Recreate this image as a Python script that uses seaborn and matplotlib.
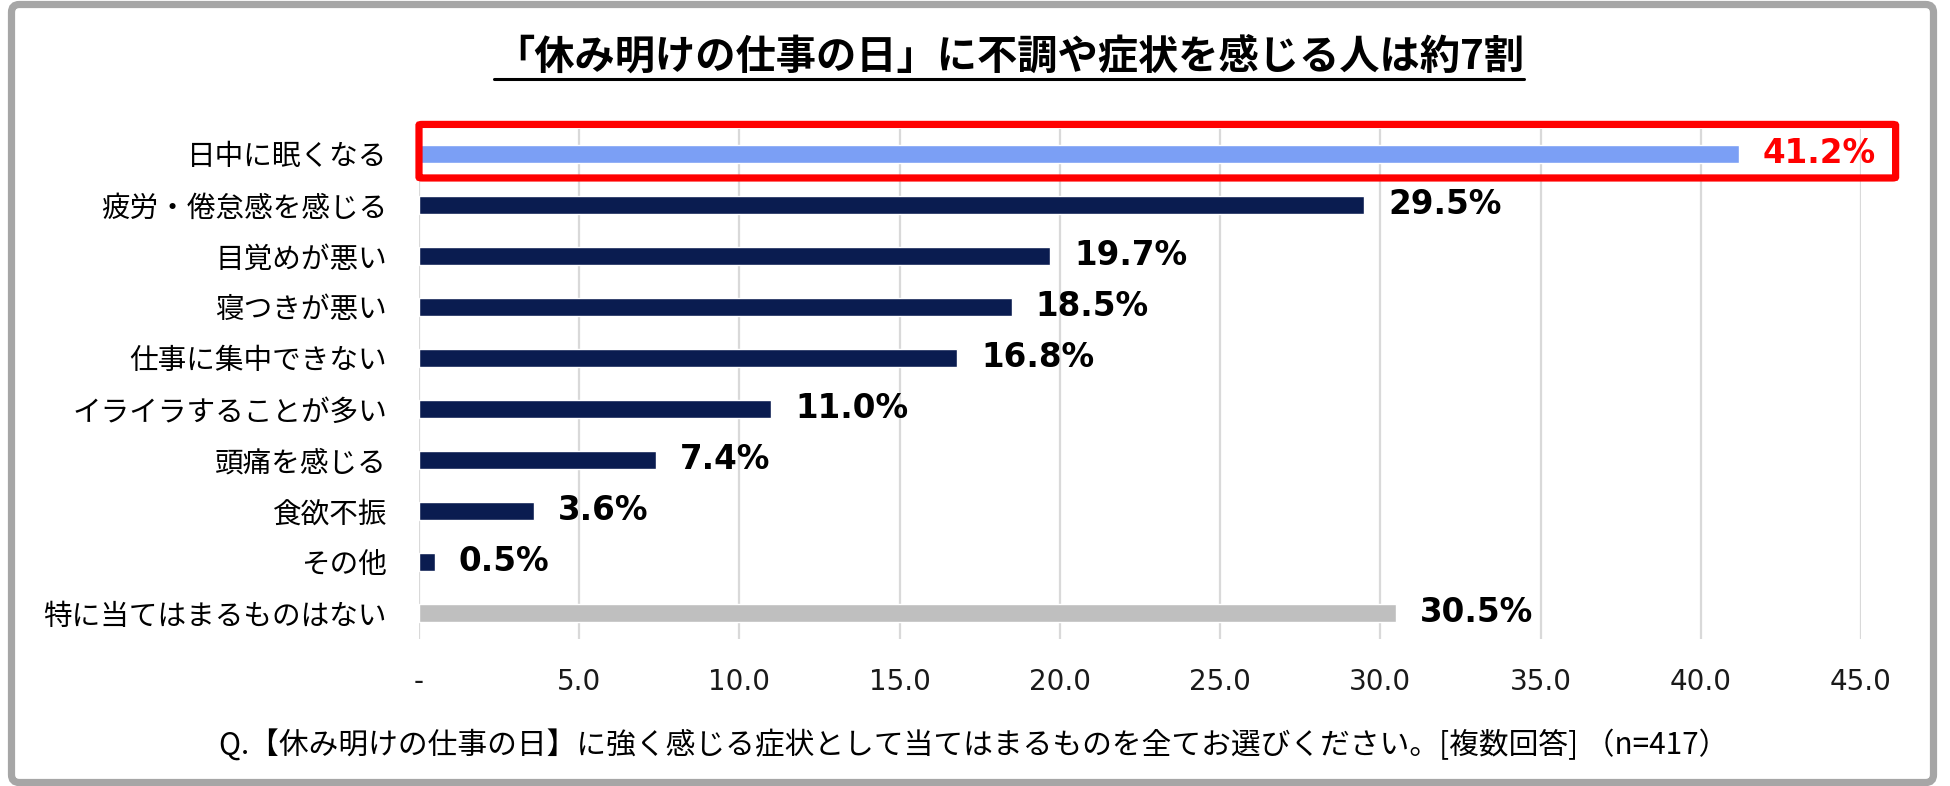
import matplotlib
matplotlib.use("Agg")
import matplotlib.pyplot as plt
import seaborn as sns
import pandas as pd
from matplotlib.patches import FancyBboxPatch
from matplotlib.lines import Line2D

categories = ["日中に眠くなる", "疲労・倦怠感を感じる", "目覚めが悪い", "寝つきが悪い", "仕事に集中できない",
              "イライラすることが多い", "頭痛を感じる", "食欲不振", "その他", "特に当てはまるものはない"]
values = [41.2, 29.5, 19.7, 18.5, 16.8, 11.0, 7.4, 3.6, 0.5, 30.5]
bar_colors = ["#7b9ff5", "#0a1c50", "#0a1c50", "#0a1c50", "#0a1c50",
              "#0a1c50", "#0a1c50", "#0a1c50", "#0a1c50", "#bfbfbf"]
label_colors = ["#ff0000"] + ["#000000"] * 9
xticks = [0, 5, 10, 15, 20, 25, 30, 35, 40, 45]
xtick_labels = ["-", "5.0", "10.0", "15.0", "20.0", "25.0", "30.0", "35.0", "40.0", "45.0"]
title = "「休み明けの仕事の日」に不調や症状を感じる人は約7割"
xlabel = "Q.【休み明けの仕事の日】に強く感じる症状として当てはまるものを全てお選びください。[複数回答] （n=417）"

sns.set_theme(style="white")
plt.rcParams['font.family'] = ['Noto Sans CJK JP', 'DejaVu Sans']

W, H = 1950, 786
fig = plt.figure(figsize=(W / 100, H / 100), dpi=100)
fig.patch.set_facecolor("white")
ax = fig.add_axes([419 / W, 1 - 638.5 / H, (1861 - 419) / W, (638.5 - 128.5) / H])

df = pd.DataFrame({"cat": categories, "val": values})
sns.barplot(data=df, x="val", y="cat", hue="cat", palette=bar_colors, legend=False,
            width=0.35, ax=ax, saturation=1, orient="h")

ax.set_xlim(0, 45)
ax.set_ylim(len(categories) - 0.5, -0.5)
ax.set_xticks(xticks)
ax.set_xticklabels(xtick_labels, family="DejaVu Sans", fontsize=20, color="#1a1a1a")
ax.tick_params(axis="x", length=0, pad=21)
ax.tick_params(axis="y", length=0, pad=23, labelsize=20.6, labelcolor="#000000")
ax.set_xlabel("")
ax.set_ylabel("")
for s in ax.spines.values():
    s.set_visible(False)
ax.grid(axis="x", color="#d9d9d9", linewidth=1.6)
ax.grid(axis="y", visible=False)
ax.set_axisbelow(True)

# value labels
for i, (v, c) in enumerate(zip(values, label_colors)):
    ax.annotate(f"{v:.1f}%", xy=(v, i), xytext=(17, 0), textcoords="offset points",
                va="center", ha="left", fontsize=23.5, fontweight="bold",
                family="DejaVu Sans", color=c)

# highlight box around first row
hl = FancyBboxPatch((0, -0.58), 46.08, 1.05, boxstyle="round,pad=0,rounding_size=0.1",
                    transform=ax.transData, fill=False, edgecolor="#ff0000",
                    linewidth=5.2, clip_on=False, zorder=5, mutation_aspect=1 / 6)
ax.add_patch(hl)

# title with underline
t = fig.text(1009 / W, 1 - 57 / H, title, ha="center", va="center", fontsize=29,
             fontweight="bold", color="#000000")
fig.canvas.draw()
bb = t.get_window_extent()
fig.add_artist(Line2D([bb.x0 / W, bb.x1 / W], [1 - 79 / H, 1 - 79 / H],
                      transform=fig.transFigure, color="#000000", linewidth=2.2))

# question text
fig.text(974 / W, 1 - 746 / H, xlabel, ha="center", va="center", fontsize=21.4, color="#000000")

# outer frame
frame = FancyBboxPatch((11.5 / W, 3.5 / H), (1933.5 - 11.5) / W, (781.5 - 3.5) / H,
                       boxstyle="round,pad=0,rounding_size=0.004", transform=fig.transFigure,
                       fill=False, edgecolor="#a6a6a6", linewidth=5.2, mutation_aspect=W / H)
fig.add_artist(frame)

fig.savefig("out.png", dpi=100, facecolor="white")
